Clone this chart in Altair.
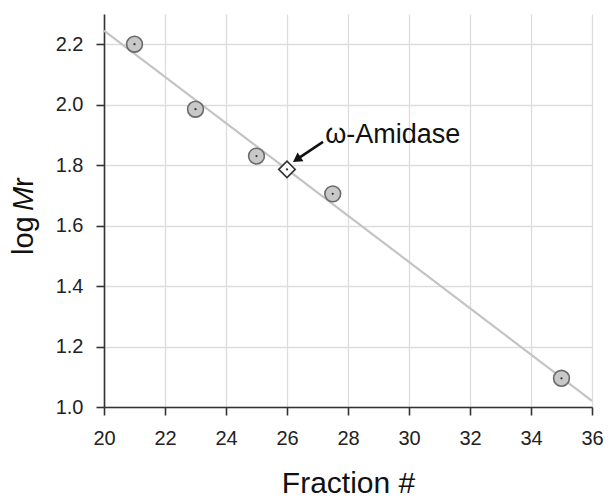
import altair as alt
import pandas as pd

# Marker proteins
fraction = [21, 23, 25, 27.5, 35]
log_mr = [2.20, 1.985, 1.83, 1.705, 1.095]

# omega-Amidase
amidase_fraction = [26]
amidase_log_mr = [1.786]

# Annotation (data coordinates)
label_text = ["\u03c9-Amidase"]
label_x = [27.25]
label_y = [1.873]
arrow_x = [27.18]
arrow_y = [1.877]
arrow_x2 = [26.32]
arrow_y2 = [1.819]

x_ticks = [20, 22, 24, 26, 28, 30, 32, 34, 36]
y_ticks = [1.0, 1.2, 1.4, 1.6, 1.8, 2.0, 2.2]

FONT = "Liberation Sans"

markers = pd.DataFrame({"fraction": fraction, "log_mr": log_mr})
amidase = pd.DataFrame({"fraction": amidase_fraction, "log_mr": amidase_log_mr})
label_df = pd.DataFrame({"text": label_text, "x": label_x, "y": label_y})
arrow_df = pd.DataFrame({"x": arrow_x, "y": arrow_y, "x2": arrow_x2, "y2": arrow_y2})

xscale = alt.Scale(domain=[20, 36], nice=False, zero=False)
yscale = alt.Scale(domain=[1.0, 2.3], nice=False, zero=False)

xaxis = alt.Axis(values=x_ticks, title="Fraction #", format="d", labelFlush=False)
yaxis = alt.Axis(values=y_ticks, title=None, format=".1f", labelFlush=False)

base = alt.Chart(markers)

fit = base.transform_regression(
    "fraction", "log_mr", extent=[20, 36]
).mark_line(color="#c4c4c4", strokeWidth=2.2).encode(
    x=alt.X("fraction:Q", scale=xscale, axis=xaxis),
    y=alt.Y("log_mr:Q", scale=yscale, axis=yaxis),
)

circles = base.mark_point(
    shape="circle", filled=True, fill="#c8c8c8", stroke="#6a6a6a",
    strokeWidth=1.6, size=250, opacity=1
).encode(x=alt.X("fraction:Q", scale=xscale), y=alt.Y("log_mr:Q", scale=yscale))

dots = base.mark_point(
    shape="circle", filled=True, color="#333333", size=5, opacity=1
).encode(x=alt.X("fraction:Q", scale=xscale), y=alt.Y("log_mr:Q", scale=yscale))

diamond = alt.Chart(amidase).mark_point(
    shape="diamond", filled=True, fill="white", stroke="#333333",
    strokeWidth=1.6, size=270, opacity=1
).encode(x=alt.X("fraction:Q", scale=xscale), y=alt.Y("log_mr:Q", scale=yscale))

diamond_dot = alt.Chart(amidase).mark_point(
    shape="circle", filled=True, color="#333333", size=5, opacity=1
).encode(x=alt.X("fraction:Q", scale=xscale), y=alt.Y("log_mr:Q", scale=yscale))

arrow_line = alt.Chart(arrow_df).mark_rule(color="#111111", strokeWidth=2.5).encode(
    x=alt.X("x:Q", scale=xscale), y=alt.Y("y:Q", scale=yscale),
    x2="x2:Q", y2="y2:Q",
)

arrow_head = alt.Chart(arrow_df).mark_point(
    shape="triangle-up", filled=True, color="#111111", size=110, angle=236, opacity=1
).encode(x=alt.X("x2:Q", scale=xscale), y=alt.Y("y2:Q", scale=yscale))

label = alt.Chart(label_df).mark_text(
    align="left", baseline="alphabetic", fontSize=27, font=FONT, color="#111111"
).encode(x=alt.X("x:Q", scale=xscale), y=alt.Y("y:Q", scale=yscale), text="text:N")

# y-axis title "log Mr" with italic M
ytitle_parts = ["log ", "M", "r"]
ytitle_y = [241, 197, 173]
ytitle_style = ["normal", "italic", "normal"]
ytitle = []
for part, yy, st in zip(ytitle_parts, ytitle_y, ytitle_style):
    ytitle.append(
        alt.Chart(markers).transform_filter("datum.fraction == 21").mark_text(
            text=part, angle=270, align="left", baseline="alphabetic",
            fontSize=29, font=FONT, fontStyle=st, color="#111111"
        ).encode(x=alt.value(-71), y=alt.value(yy))
    )

chart = alt.layer(
    fit, circles, dots, diamond, diamond_dot, arrow_line, arrow_head, label, *ytitle
).properties(
    width=488, height=393,
    autosize=alt.AutoSizeParams(type="none"),
    padding={"left": 96, "top": 6, "right": 12, "bottom": 90},
).configure_view(stroke=None).configure_axis(
    domainColor="#333333", domainWidth=1.6,
    tickColor="#333333", tickWidth=1.6, tickSize=8,
    gridColor="#dddddd", gridWidth=1.3,
    labelFont=FONT, labelFontSize=20, labelColor="#222222",
    titleFont=FONT, titleFontSize=30, titleFontWeight="normal", titleColor="#111111",
).configure_axisX(labelPadding=13, titlePadding=20).configure_axisY(labelPadding=13)

chart.save("out.html", embed_options={"renderer": "svg", "actions": False})
